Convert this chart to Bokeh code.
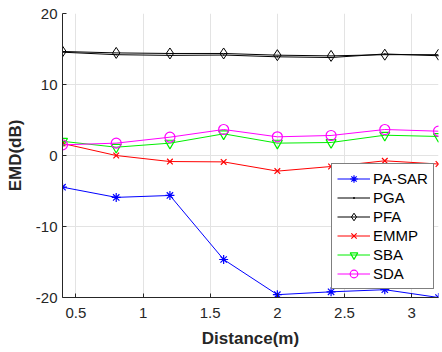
from bokeh.plotting import figure
from bokeh.models import Range1d, FixedTicker, CustomJSTickFormatter, Legend, LegendItem
from bokeh.embed import file_html
from bokeh.resources import INLINE

distance = [0.4, 0.8, 1.2, 1.6, 2.0, 2.4, 2.8, 3.2]
pa_sar = [-4.46, -5.9, -5.63, -14.65, -19.6, -19.2, -18.9, -20.0]
pga = [14.55, 14.2, 14.1, 14.15, 13.9, 13.8, 14.3, 14.05]
pfa = [14.65, 14.45, 14.37, 14.37, 14.13, 14.03, 14.2, 14.2]
emmp = [1.7, 0.0, -0.85, -0.9, -2.2, -1.55, -0.75, -1.2]
sba = [2.0, 1.17, 1.74, 3.05, 1.74, 1.83, 2.86, 2.68]
sda = [1.5, 1.74, 2.58, 3.66, 2.63, 2.82, 3.66, 3.42]
x_ticks = [0.5, 1, 1.5, 2, 2.5, 3]
y_ticks = [-20, -10, 0, 10, 20]

FONT = "Liberation Sans"
AX = "#262626"

p = figure(width=442, height=352, output_backend="svg", toolbar_location=None,
           x_range=Range1d(0.4, 3.2), y_range=Range1d(-20, 20),
           min_border_left=62, min_border_right=4, min_border_top=13, min_border_bottom=55)
p.outline_line_color = None
p.background_fill_color = "white"
p.border_fill_color = "white"

for ax, ticks in ((p.xaxis, x_ticks), (p.yaxis, y_ticks)):
    ax.ticker = FixedTicker(ticks=ticks)
    ax.formatter = CustomJSTickFormatter(code="return tick.toString();")
    ax.major_label_text_font = FONT
    ax.major_label_text_font_size = "15px"
    ax.major_label_text_color = AX
    ax.axis_line_color = AX
    ax.major_tick_line_color = AX
    ax.major_tick_in = 4
    ax.major_tick_out = 0
    ax.minor_tick_line_color = None
    ax.axis_label_text_font = FONT
    ax.axis_label_text_font_size = "17px"
    ax.axis_label_text_font_style = "bold"
    ax.axis_label_text_color = AX

p.xaxis.axis_label = "Distance(m)"
p.yaxis.axis_label = "EMD(dB)"
p.xaxis.major_label_standoff = 10
p.yaxis.major_label_standoff = 5
p.xaxis.axis_label_standoff = 8
p.yaxis.axis_label_standoff = 8

p.xgrid.grid_line_color = "#e3e3e3"
p.ygrid.grid_line_color = "#e3e3e3"

items = []
l = p.line(distance, pa_sar, line_color="blue", line_width=1)
m = p.scatter(distance, pa_sar, marker="asterisk", size=9, line_color="blue", line_width=1.2)
items.append(LegendItem(label="PA-SAR", renderers=[l, m]))

l = p.line(distance, pga, line_color="black", line_width=1)
m = p.scatter(distance, pga, marker="dot", size=6, line_color="black", fill_color="black")
items.append(LegendItem(label="PGA", renderers=[l, m]))

l = p.line(distance, pfa, line_color="black", line_width=1)
m = p.scatter(distance, pfa, marker="diamond", size=11, line_color="black", fill_color=None, line_width=1)
items.append(LegendItem(label="PFA", renderers=[l, m]))

l = p.line(distance, emmp, line_color="red", line_width=1)
m = p.scatter(distance, emmp, marker="x", size=8, line_color="red", line_width=1.2)
items.append(LegendItem(label="EMMP", renderers=[l, m]))

l = p.line(distance, sba, line_color="#00ee00", line_width=1)
m = p.scatter(distance, sba, marker="inverted_triangle", size=10, line_color="#00ee00", fill_color=None, line_width=1.2)
items.append(LegendItem(label="SBA", renderers=[l, m]))

l = p.line(distance, sda, line_color="magenta", line_width=1)
m = p.scatter(distance, sda, marker="circle", size=10, line_color="magenta", fill_color=None, line_width=1.2)
items.append(LegendItem(label="SDA", renderers=[l, m]))

legend = Legend(items=items, location=(269, 8))
legend.label_text_font = FONT
legend.label_text_font_size = "15px"
legend.label_text_color = "black"
legend.border_line_color = "black"
legend.border_line_width = 1
legend.background_fill_color = "white"
legend.background_fill_alpha = 1
legend.padding = 5
legend.spacing = 0
legend.margin = 0
legend.label_height = 19
legend.glyph_height = 19
legend.glyph_width = 33
legend.label_standoff = 3
p.add_layout(legend, "center")

open("out.html", "w").write(file_html(p, INLINE))
